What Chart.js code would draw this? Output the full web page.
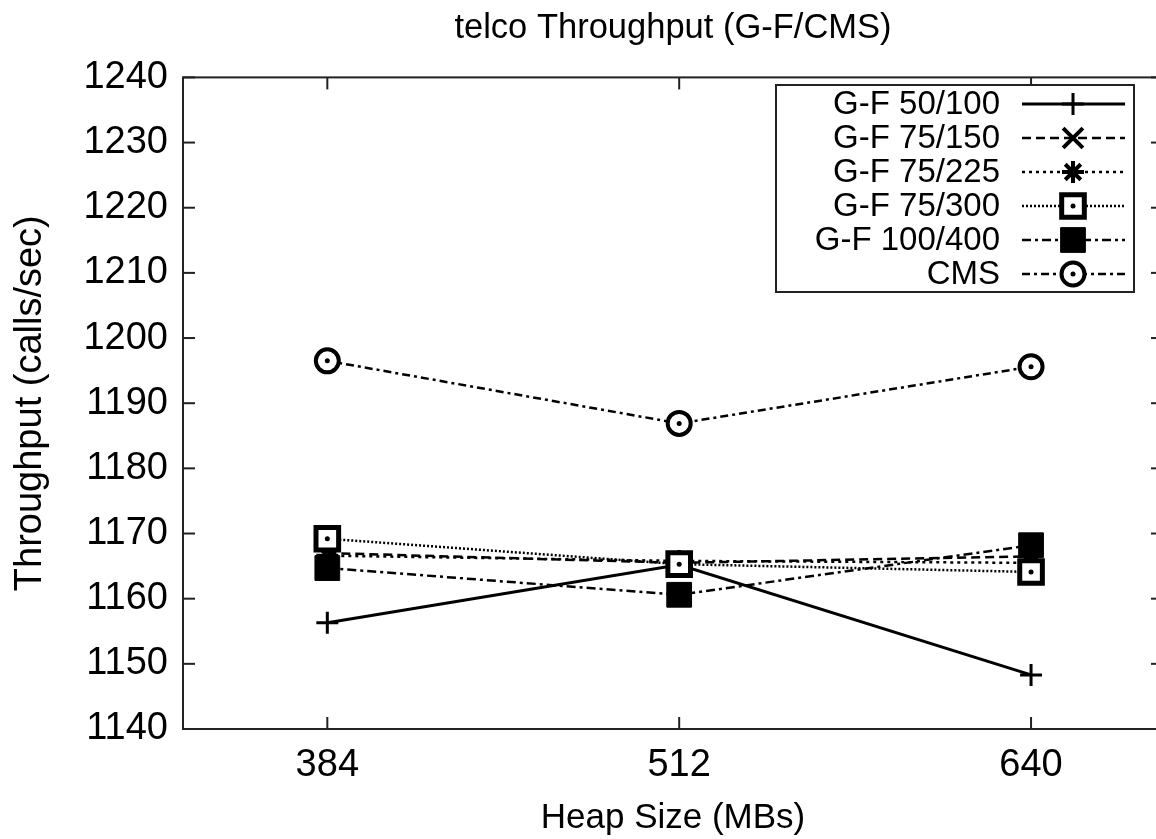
<!DOCTYPE html>
<html>
<head>
<meta charset="utf-8">
<script src="https://cdn.jsdelivr.net/npm/chart.js@4.4.1/dist/chart.umd.min.js"></script>
<style>
  html, body { margin: 0; padding: 0; background: #fff; overflow: hidden; }
</style>
</head>
<body>
<canvas id="telcoChart" width="1184" height="839"></canvas>
<script>
// heap sizes on the x axis (MBs)
const heapSizes = [384, 512, 640];
const yTickValues = [1140, 1150, 1160, 1170, 1180, 1190, 1200, 1210, 1220, 1230, 1240];

const seriesNames = ['G-F 50/100', 'G-F 75/150', 'G-F 75/225', 'G-F 75/300', 'G-F 100/400', 'CMS'];
const gf50_100 = [1156.3, 1165.2, 1148.3];
const gf75_150 = [1167.0, 1165.5, 1166.5];
const gf75_225 = [1166.6, 1165.8, 1165.5];
const gf75_300 = [1169.2, 1165.3, 1164.1];
const gf100_400 = [1164.7, 1160.6, 1168.2];
const cms = [1196.5, 1186.9, 1195.6];

const seriesValues = [gf50_100, gf75_150, gf75_225, gf75_300, gf100_400, cms];

const FONT = "'Liberation Sans', Arial, Helvetica, sans-serif";
const INK = '#000';

// line / marker look per series, gnuplot style
const styles = [
    { dash: [], width: 3, point: 'cross', radius: 11, pbw: 3, fill: INK },
    { dash: [9, 5], width: 2.5, point: 'crossRot', radius: 14, pbw: 4, fill: INK },
    { dash: [3, 4], width: 2.5, point: 'star', radius: 11, pbw: 4, fill: INK },
    { dash: [2, 2], width: 2.5, point: 'rect', radius: 16, pbw: 5, fill: '#fff', dot: true },
    { dash: [9, 4, 3, 4], width: 2.5, point: 'rect', radius: 17.5, pbw: 1, fill: INK },
    { dash: [8, 4, 3, 4], width: 2.5, point: 'circle', radius: 11.5, pbw: 4, fill: '#fff', dot: true }
];

const datasets = seriesNames.map((name, i) => ({
    label: name,
    data: heapSizes.map((h, j) => ({ x: h, y: seriesValues[i][j] })),
    borderColor: INK,
    borderWidth: styles[i].width,
    borderDash: styles[i].dash,
    pointStyle: styles[i].point,
    pointRadius: styles[i].radius,
    pointBorderWidth: styles[i].pbw,
    pointBackgroundColor: styles[i].fill,
    pointBorderColor: INK,
    tension: 0,
    order: seriesNames.length - i
}));

const line = (ctx, x1, y1, x2, y2) => {
    ctx.beginPath();
    ctx.moveTo(x1, y1);
    ctx.lineTo(x2, y2);
    ctx.stroke();
};

// gnuplot-like frame with inward ticks, mirrored on top and right
const framePlugin = {
    id: 'frame',
    beforeDatasetsDraw(chart) {
        const { ctx, chartArea: { left, right, top, bottom }, scales: { x, y } } = chart;
        ctx.save();
        ctx.strokeStyle = '#222';
        ctx.lineWidth = 2;
        ctx.setLineDash([]);
        ctx.strokeRect(left, top, right - left, bottom - top);
        y.ticks.forEach(t => {
            const py = y.getPixelForValue(t.value);
            line(ctx, left, py, left + 12, py);
            line(ctx, right, py, right - 12, py);
        });
        x.ticks.forEach(t => {
            const px = x.getPixelForValue(t.value);
            line(ctx, px, bottom, px, bottom - 12);
            line(ctx, px, top, px, top + 12);
        });
        ctx.restore();
    },
    afterDatasetsDraw(chart) {
        const ctx = chart.ctx;
        ctx.save();
        ctx.fillStyle = INK;
        chart.data.datasets.forEach((ds, i) => {
            if (!styles[i].dot) return;
            chart.getDatasetMeta(i).data.forEach(el => {
                ctx.beginPath();
                ctx.arc(el.x, el.y, 2.5, 0, Math.PI * 2);
                ctx.fill();
            });
        });
        ctx.restore();
    }
};

// key box in the top right corner, text right aligned, sample on the right
const keyPlugin = {
    id: 'key',
    afterDraw(chart) {
        const ctx = chart.ctx;
        const box = { l: 776, t: 85, r: 1134, b: 292 };
        ctx.save();
        ctx.fillStyle = '#fff';
        ctx.fillRect(box.l, box.t, box.r - box.l, box.b - box.t);
        ctx.strokeStyle = '#222';
        ctx.lineWidth = 2;
        ctx.strokeRect(box.l, box.t, box.r - box.l, box.b - box.t);
        ctx.font = '33px ' + FONT;
        ctx.textAlign = 'right';
        ctx.textBaseline = 'middle';
        seriesNames.forEach((name, i) => {
            const cy = 104 + i * 34;
            const st = styles[i];
            ctx.fillStyle = INK;
            ctx.fillText(name, 1000, cy + 1);
            ctx.strokeStyle = INK;
            ctx.lineWidth = st.width;
            ctx.setLineDash(st.dash);
            line(ctx, 1022, cy, 1125, cy);
            ctx.setLineDash([]);
            ctx.lineWidth = st.pbw;
            ctx.fillStyle = st.fill;
            Chart.helpers.drawPoint(ctx, { pointStyle: st.point, radius: st.radius, rotation: 0, borderWidth: st.pbw }, 1073, cy);
            if (st.dot) {
                ctx.fillStyle = INK;
                ctx.beginPath();
                ctx.arc(1073, cy, 2.5, 0, Math.PI * 2);
                ctx.fill();
            }
        });
        ctx.restore();
    }
};

new Chart(document.getElementById('telcoChart'), {
    type: 'line',
    data: { datasets },
    plugins: [framePlugin, keyPlugin],
    options: {
        responsive: false,
        animation: false,
        devicePixelRatio: 1,
        layout: { padding: { left: 0, right: 8, top: 0, bottom: 0 } },
        plugins: {
            legend: { display: false },
            tooltip: { enabled: false },
            title: {
                display: true,
                text: 'telco Throughput (G-F/CMS)',
                fullSize: false,
                color: INK,
                font: { family: FONT, size: 34.5, weight: 'normal' },
                padding: { top: 8, bottom: 28 }
            }
        },
        scales: {
            x: {
                type: 'linear',
                min: 331.5,
                max: 688,
                afterFit: scale => { scale.height = 110; },
                afterBuildTicks: scale => { scale.ticks = heapSizes.map(v => ({ value: v })); },
                grid: { display: false, drawTicks: false },
                border: { display: false },
                ticks: {
                    color: INK,
                    padding: 14,
                    font: { family: FONT, size: 38 },
                    callback: v => String(v)
                },
                title: {
                    display: true,
                    text: 'Heap Size (MBs)',
                    color: INK,
                    font: { family: FONT, size: 35 },
                    padding: { top: 0, bottom: 0 }
                }
            },
            y: {
                min: 1140,
                max: 1240,
                afterFit: scale => { scale.width = 183; },
                afterBuildTicks: scale => { scale.ticks = yTickValues.map(v => ({ value: v })); },
                grid: { display: false, drawTicks: false },
                border: { display: false },
                ticks: {
                    color: INK,
                    padding: 15,
                    font: { family: FONT, size: 38 },
                    callback: v => String(v)
                },
                title: {
                    display: true,
                    text: 'Throughput (calls/sec)',
                    color: INK,
                    font: { family: FONT, size: 38 },
                    padding: { top: 8, bottom: 0 }
                }
            }
        }
    }
});
</script>
</body>
</html>
